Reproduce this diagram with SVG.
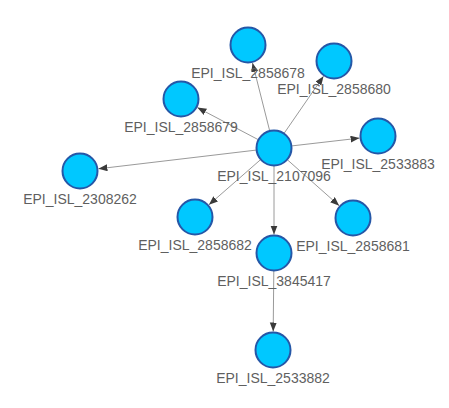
<svg xmlns="http://www.w3.org/2000/svg" width="449" height="408" viewBox="0 0 449 408">
<style>
.n circle{fill:#00c8ff;stroke:#2557a7;stroke-width:2}
.n text{font-family:"Liberation Sans",Arial,sans-serif;font-size:14px;fill:#5f5f5f;text-anchor:middle}
.e line{stroke:#9a9a9a;stroke-width:1;marker-end:url(#arr)}
</style>
<defs>
<marker id="arr" markerUnits="userSpaceOnUse" markerWidth="10" markerHeight="8" refX="9" refY="3.5" orient="auto">
<path d="M0,0 L9,3.5 L0,7 Z" fill="#3a3a3a"/>
</marker>
</defs>
<rect width="449" height="408" fill="#fff"/>
<g id="connectors" class="e">
<line x1="269.6" y1="130.5" x2="252.5" y2="62.9"/>
<line x1="284.2" y1="133.2" x2="323.5" y2="76.2"/>
<line x1="258.1" y1="139.6" x2="197.4" y2="107.6"/>
<line x1="291.9" y1="145.9" x2="359.6" y2="138.1"/>
<line x1="256.1" y1="150.1" x2="98.4" y2="168.8"/>
<line x1="260.4" y1="159.8" x2="208.9" y2="204.8"/>
<line x1="287.5" y1="159.9" x2="339.2" y2="205.7"/>
<line x1="274" y1="166" x2="274" y2="234.5"/>
<line x1="273.8" y1="271" x2="273.2" y2="331.5"/>
</g>
<g id="EPI_ISL_2107096" class="n"><circle cx="274" cy="148" r="17.5"/><text x="274" y="181">EPI_ISL_2107096</text></g>
<g id="EPI_ISL_2858678" class="n"><circle cx="248" cy="45" r="17.5"/><text x="248" y="78">EPI_ISL_2858678</text></g>
<g id="EPI_ISL_2858680" class="n"><circle cx="334" cy="61" r="17.5"/><text x="334" y="94">EPI_ISL_2858680</text></g>
<g id="EPI_ISL_2858679" class="n"><circle cx="181" cy="99" r="17.5"/><text x="181" y="132">EPI_ISL_2858679</text></g>
<g id="EPI_ISL_2533883" class="n"><circle cx="378" cy="136" r="17.5"/><text x="378" y="169">EPI_ISL_2533883</text></g>
<g id="EPI_ISL_2308262" class="n"><circle cx="80" cy="171" r="17.5"/><text x="80" y="204">EPI_ISL_2308262</text></g>
<g id="EPI_ISL_2858682" class="n"><circle cx="195" cy="217" r="17.5"/><text x="195" y="250">EPI_ISL_2858682</text></g>
<g id="EPI_ISL_2858681" class="n"><circle cx="353" cy="218" r="17.5"/><text x="353" y="251">EPI_ISL_2858681</text></g>
<g id="EPI_ISL_3845417" class="n"><circle cx="274" cy="253" r="17.5"/><text x="274" y="286">EPI_ISL_3845417</text></g>
<g id="EPI_ISL_2533882" class="n"><circle cx="273" cy="350" r="17.5"/><text x="273" y="383">EPI_ISL_2533882</text></g>
</svg>
